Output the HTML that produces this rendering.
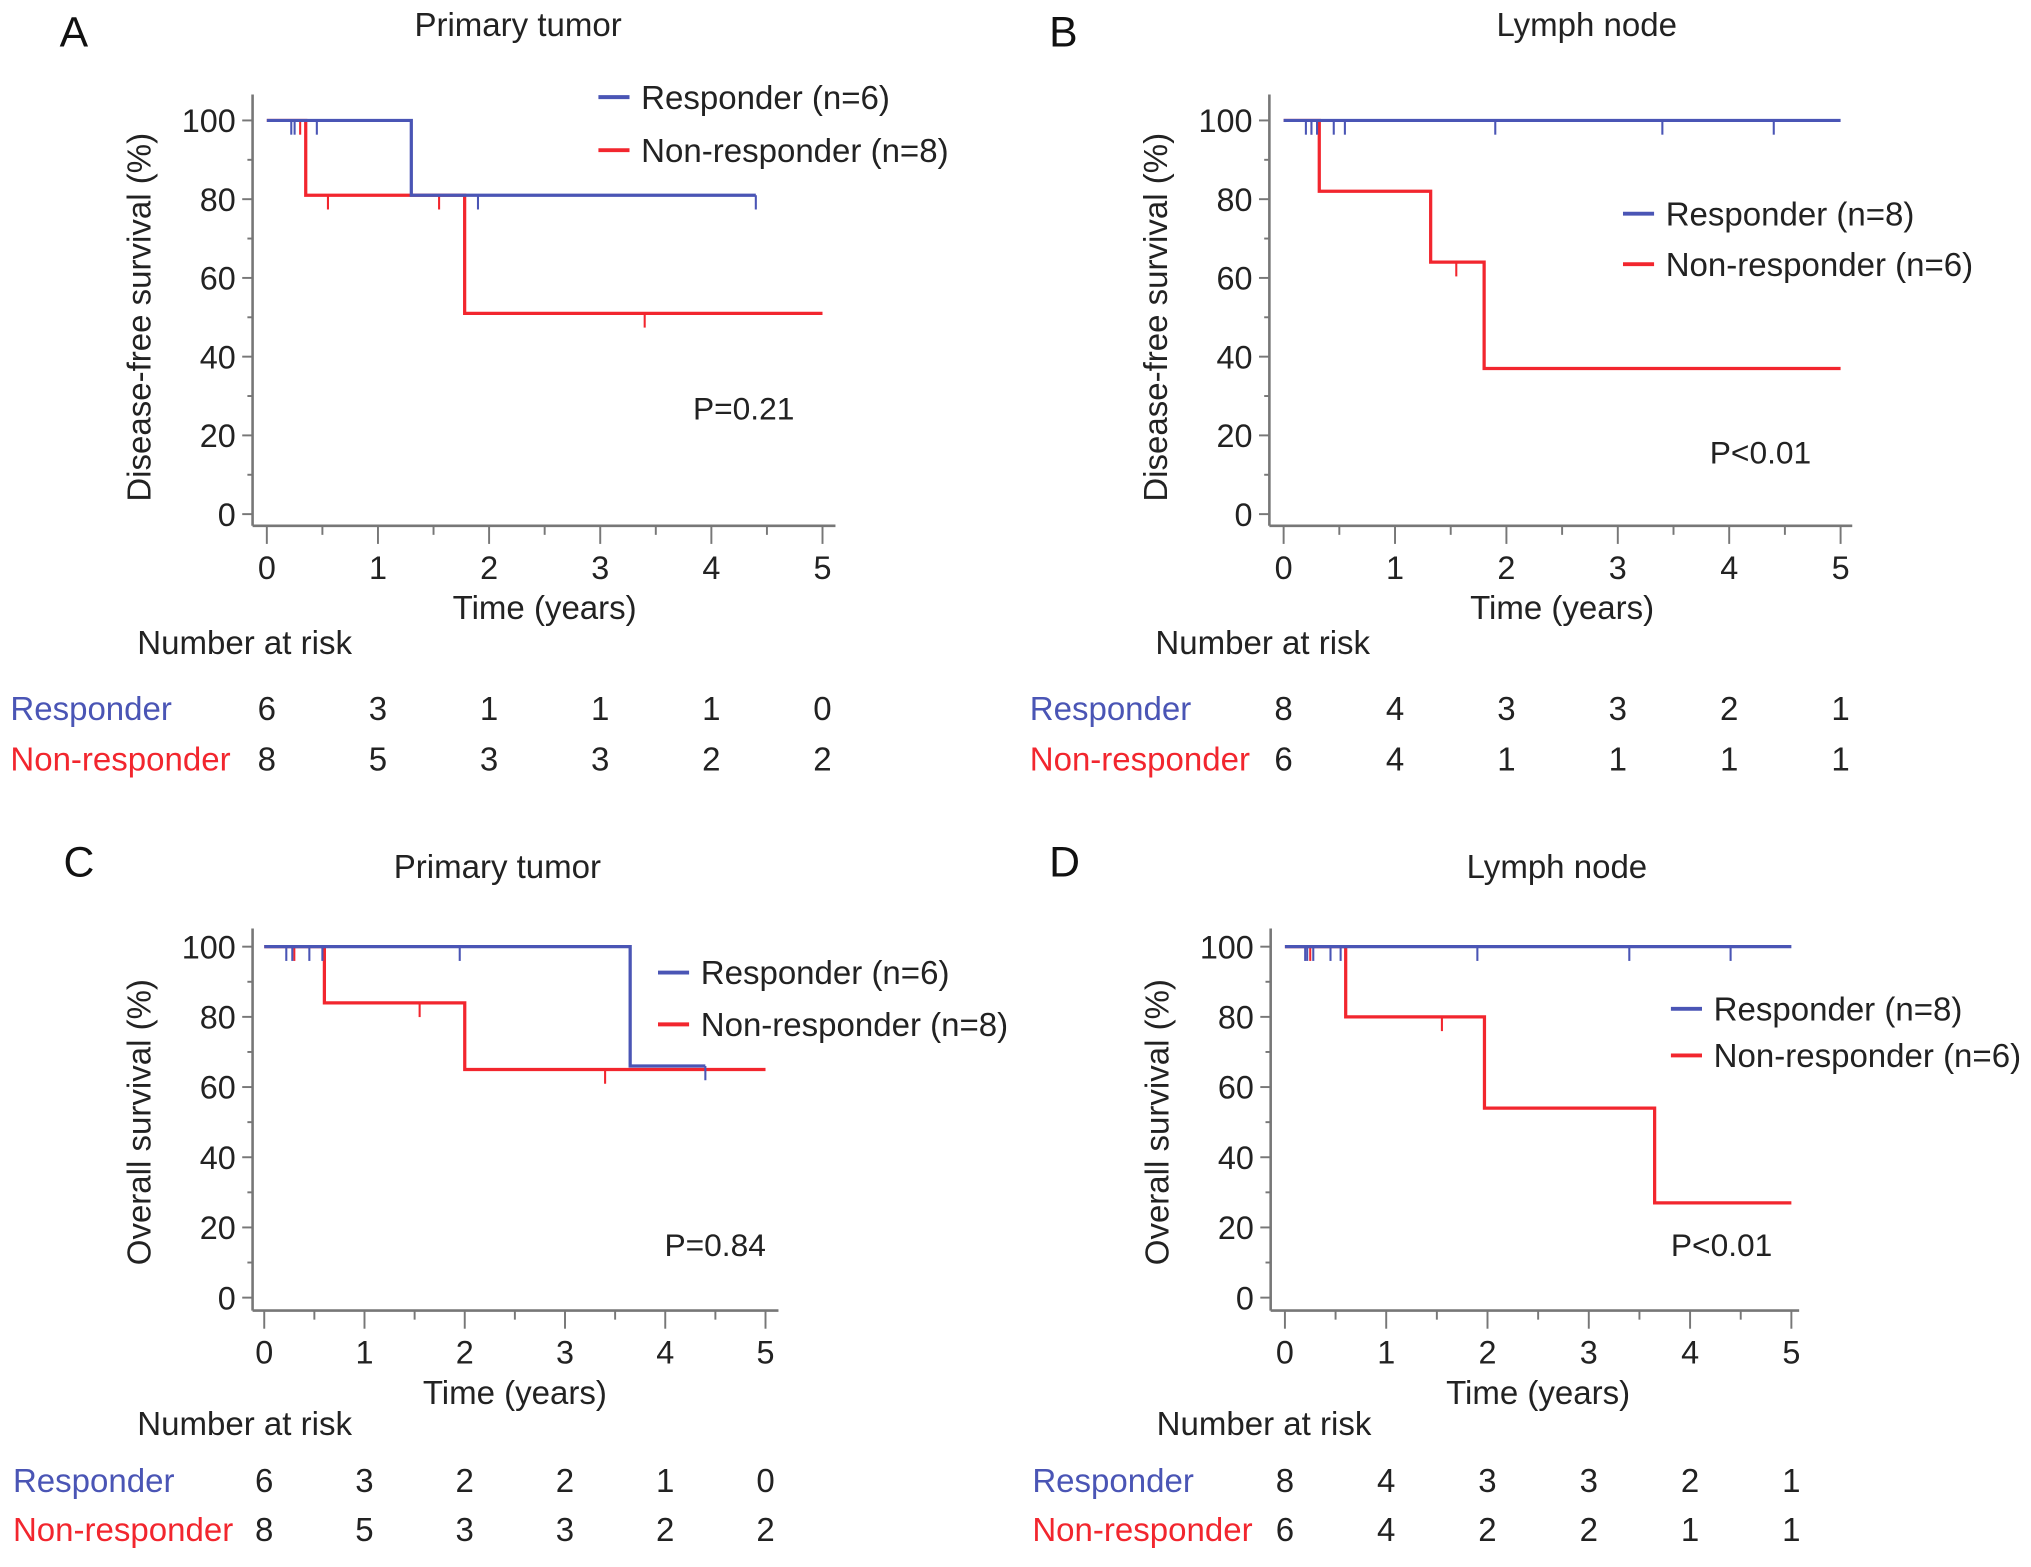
<!DOCTYPE html>
<html><head><meta charset="utf-8"><style>
html,body{margin:0;padding:0;background:#fff;}
svg{display:block;font-family:"Liberation Sans",Arial,sans-serif;}
</style></head><body>
<svg id="fig" width="2031" height="1567" viewBox="0 0 1568 1210" preserveAspectRatio="none" xmlns="http://www.w3.org/2000/svg"></svg>
<script>
// Panel A: disease-free, primary tumor
const aRespT=[0,1.3,4.4]; const aRespS=[100,81,81];
const aRespCens=[0.22,0.25,0.45,1.9,4.4];
const aNonT=[0,0.35,1.78,5]; const aNonS=[100,81,51,51];
const aNonCens=[0.3,0.55,1.55,3.4];
const aRiskResp=[6,3,1,1,1,0]; const aRiskNon=[8,5,3,3,2,2];
// Panel B: disease-free, lymph node
const bRespT=[0,5]; const bRespS=[100,100];
const bRespCens=[0.2,0.25,0.3,0.45,0.55,1.9,3.4,4.4];
const bNonT=[0,0.32,1.32,1.8,5]; const bNonS=[100,82,64,37,37];
const bNonCens=[0.25,1.55];
const bRiskResp=[8,4,3,3,2,1]; const bRiskNon=[6,4,1,1,1,1];
// Panel C: overall, primary tumor
const cRespT=[0,3.65,4.4]; const cRespS=[100,66,66];
const cRespCens=[0.22,0.28,0.45,0.58,1.95,4.4];
const cNonT=[0,0.6,2.0,5]; const cNonS=[100,84,65,65];
const cNonCens=[0.3,1.55,3.4];
const cRiskResp=[6,3,2,2,1,0]; const cRiskNon=[8,5,3,3,2,2];
// Panel D: overall, lymph node
const dRespT=[0,5]; const dRespS=[100,100];
const dRespCens=[0.2,0.22,0.28,0.45,0.55,1.9,3.4,4.4];
const dNonT=[0,0.6,1.97,3.65,5]; const dNonS=[100,80,54,27,27];
const dNonCens=[0.25,1.55];
const dRiskResp=[8,4,3,3,2,1]; const dRiskNon=[6,4,2,2,1,1];
const xTickLabels=["0","1","2","3","4","5"];
const yTickLabels=["0","20","40","60","80","100"];

const NS="http://www.w3.org/2000/svg";
const svg=document.getElementById('fig');
const BLUE="#4a55b5", RED="#f2262e";
const FS=25.5, TFS=25;
function mk(tag,attrs,parent,text){const e=document.createElementNS(NS,tag);for(const k in attrs)e.setAttribute(k,attrs[k]);if(text!==undefined)e.textContent=text;(parent||svg).appendChild(e);return e;}

function panel(p){
  const g=mk('g',{});
  
  
  const X=t=>p.x0+(p.x5-p.x0)*t/5;
  const Y=s=>p.y0+(p.y100-p.y0)*s/100;
  let e;
  e=mk('text',{x:p.lx,y:p.ly,'font-size':33,fill:'#111'},g,p.letter);
  
  e=mk('text',{x:p.tx,y:p.ty,'font-size':FS,'text-anchor':'middle',fill:'#222'},g,p.title);
  
  e=mk('line',{x1:p.ax,y1:p.atop,x2:p.ax,y2:p.abot,stroke:'#777','stroke-width':2},g);
  
  e=mk('line',{x1:p.ax,y1:p.abot,x2:p.aright,y2:p.abot,stroke:'#777','stroke-width':2},g);
  
  for(let i=0;i<=10;i++){
    const y=Y(i*10), major=i%2==0;
    mk('line',{x1:p.ax-(major?8:4),y1:y,x2:p.ax,y2:y,stroke:'#777','stroke-width':1.5},g);
    if(major){e=mk('text',{x:p.ax-13,y:y+9,'font-size':TFS,'text-anchor':'end',fill:'#222'},g,yTickLabels[i/2]);
      }
  }
  for(let i=0;i<=10;i++){
    const x=X(i/2), major=i%2==0;
    mk('line',{x1:x,y1:p.abot,x2:x,y2:p.abot+(major?14:7),stroke:'#777','stroke-width':1.5},g);
    if(major){e=mk('text',{x:x,y:p.abot+41,'font-size':TFS,'text-anchor':'middle',fill:'#222'},g,xTickLabels[i/2]);
      }
  }
  e=mk('text',{x:(p.x0+p.x5)/2,y:p.abot+72,'font-size':FS,'text-anchor':'middle',fill:'#222'},g,'Time (years)');
  
  const ym=(p.y0+p.y100)/2;
  e=mk('text',{x:0,y:0,'font-size':FS,'text-anchor':'middle',fill:'#222',transform:`translate(${p.ax-79},${ym}) rotate(-90)`},g,p.ylab);
  
  function curve(T,S,C,col,name){
    let d=`M${X(T[0])},${Y(S[0])}`;
    for(let i=1;i<T.length;i++){d+=` H${X(T[i])} V${Y(S[i])}`;}
    const pe=mk('path',{d:d,fill:'none',stroke:col,'stroke-width':2.5},g);
    
    C.forEach(t=>{let s=S[0];for(let i=0;i<T.length;i++)if(T[i]<=t)s=S[i];
      const ce=mk('line',{x1:X(t),y1:Y(s),x2:X(t),y2:Y(s)+11,stroke:col,'stroke-width':1.6},g);
      });
  }
  curve(p.nT,p.nS,p.nC,RED,'non-responder');
  curve(p.rT,p.rS,p.rC,BLUE,'responder');
  [[BLUE,p.legR,p.legY1],[RED,p.legN,p.legY2]].forEach(([c,t,y])=>{
    const lg=mk('g',{},g);
    
    mk('line',{x1:p.legX,y1:y,x2:p.legX+24,y2:y,stroke:c,'stroke-width':3},lg);
    mk('text',{x:p.legX+33,y:y+9,'font-size':FS,fill:'#222'},lg,t);
  });
  e=mk('text',{x:p.px,y:p.py,'font-size':24.5,fill:'#222'},g,p.pval);
  
  e=mk('text',{x:p.nrx,y:p.nry,'font-size':FS,fill:'#222'},g,'Number at risk');
  
  e=mk('text',{x:p.rlx,y:p.r1y,'font-size':FS,fill:BLUE},g,'Responder');
  
  e=mk('text',{x:p.rlx,y:p.r2y,'font-size':FS,fill:RED},g,'Non-responder');
  
  p.riskR.forEach((v,i)=>{const t=mk('text',{x:X(i),y:p.r1y,'font-size':FS,'text-anchor':'middle',fill:'#222'},g,v);
    });
  p.riskN.forEach((v,i)=>{const t=mk('text',{x:X(i),y:p.r2y,'font-size':FS,'text-anchor':'middle',fill:'#222'},g,v);
    });
}

panel({id:'a',letter:'A',lx:46,ly:36,title:'Primary tumor',tx:400,ty:28,ylab:'Disease-free survival (%)',
  x0:206,x5:635,y0:397,y100:93,ax:195,atop:73,abot:406,aright:645,
  rT:aRespT,rS:aRespS,rC:aRespCens,nT:aNonT,nS:aNonS,nC:aNonCens,
  legX:462,legY1:75,legY2:116,legR:'Responder (n=6)',legN:'Non-responder (n=8)',
  px:535,py:324,pval:'P=0.21',nrx:106,nry:505,rlx:8,r1y:556,r2y:595,riskR:aRiskResp,riskN:aRiskNon});
panel({id:'b',letter:'B',lx:810,ly:36,title:'Lymph node',tx:1225,ty:28,ylab:'Disease-free survival (%)',
  x0:991,x5:1421,y0:397,y100:93,ax:980,atop:73,abot:406,aright:1430,
  rT:bRespT,rS:bRespS,rC:bRespCens,nT:bNonT,nS:bNonS,nC:bNonCens,
  legX:1253,legY1:165,legY2:204,legR:'Responder (n=8)',legN:'Non-responder (n=6)',
  px:1320,py:358,pval:'P<0.01',nrx:892,nry:505,rlx:795,r1y:556,r2y:595,riskR:bRiskResp,riskN:bRiskNon});
panel({id:'c',letter:'C',lx:49,ly:677,title:'Primary tumor',tx:384,ty:678,ylab:'Overall survival (%)',
  x0:204,x5:591,y0:1002,y100:731,ax:195,atop:717,abot:1012,aright:601,
  rT:cRespT,rS:cRespS,rC:cRespCens,nT:cNonT,nS:cNonS,nC:cNonCens,
  legX:508,legY1:751,legY2:791,legR:'Responder (n=6)',legN:'Non-responder (n=8)',
  px:513,py:970,pval:'P=0.84',nrx:106,nry:1108,rlx:10,r1y:1152,r2y:1190,riskR:cRiskResp,riskN:cRiskNon});
panel({id:'d',letter:'D',lx:810,ly:677,title:'Lymph node',tx:1202,ty:678,ylab:'Overall survival (%)',
  x0:992,x5:1383,y0:1002,y100:731,ax:981,atop:717,abot:1012,aright:1389,
  rT:dRespT,rS:dRespS,rC:dRespCens,nT:dNonT,nS:dNonS,nC:dNonCens,
  legX:1290,legY1:779,legY2:815,legR:'Responder (n=8)',legN:'Non-responder (n=6)',
  px:1290,py:970,pval:'P<0.01',nrx:893,nry:1108,rlx:797,r1y:1152,r2y:1190,riskR:dRiskResp,riskN:dRiskNon});
</script>
</body></html>
